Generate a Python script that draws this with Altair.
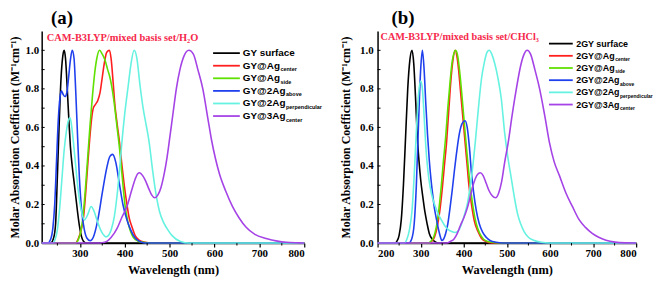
import altair as alt
import pandas as pd

SERIF = "Liberation Serif"
SANS = "Liberation Sans"

# ---------------- categories / labels ----------------
A_MAIN = ["GY surface", "GY@Ag", "GY@Ag", "GY@2Ag", "GY@2Ag", "GY@3Ag"]
B_MAIN = ["2GY surface", "2GY@Ag", "2GY@Ag", "2GY@2Ag", "2GY@2Ag", "2GY@3Ag"]
SUBS = ["", "center", "side", "above", "perpendicular", "center"]
COLORS = ["#000000", "#ff1f1f", "#5ee000", "#2040ee", "#66f2e0", "#a543e6"]
A_METHOD = ["CAM-B3LYP/mixed basis set/H\u2082O"]
B_METHOD = ["CAM-B3LYP/mixed basis set/CHCl\u2083"]
A_X_LABELS = [300, 400, 500, 600, 700, 800]
B_X_LABELS = [200, 300, 400, 500, 600, 700, 800]
X_MINOR = [250, 350, 450, 550, 650, 750]
Y_LABELS = [0.0, 0.2, 0.4, 0.6, 0.8, 1.0]
Y_MINOR = [0.1, 0.2, 0.3, 0.4, 0.5, 0.6, 0.7, 0.8, 0.9, 1.0]

# ---------------- panel (a) : H2O ----------------
a_surface_wl = [215, 235, 242, 246, 250, 254, 258, 262, 265, 268, 272, 276, 279, 283, 287, 291, 295, 299, 303, 308, 315, 800]
a_surface_v = [0, 0, 0.03, 0.1, 0.35, 0.62, 0.85, 0.97, 1.0, 0.96, 0.8, 0.62, 0.5, 0.4, 0.32, 0.24, 0.16, 0.09, 0.04, 0.01, 0, 0]

a_center_wl = [215, 290, 296, 302, 308, 313, 318, 322, 326, 330, 335, 340, 345, 350, 355, 360, 366, 370, 374, 378, 383, 388, 394, 399, 405, 410, 416, 423, 432, 445, 460, 800]
a_center_v = [0, 0, 0.02, 0.06, 0.13, 0.26, 0.42, 0.54, 0.64, 0.7, 0.72, 0.74, 0.78, 0.86, 0.94, 0.99, 1.0, 0.95, 0.84, 0.72, 0.62, 0.53, 0.4, 0.3, 0.2, 0.13, 0.085, 0.04, 0.015, 0.004, 0, 0]

a_side_wl = [215, 290, 297, 303, 308, 313, 318, 323, 328, 333, 338, 344, 350, 356, 362, 368, 372, 378, 383, 388, 393, 397, 401, 407, 413, 419, 430, 450, 470, 800]
a_side_v = [0, 0, 0.02, 0.07, 0.16, 0.3, 0.46, 0.62, 0.76, 0.88, 0.96, 1.0, 0.98, 0.95, 0.9, 0.85, 0.8, 0.7, 0.6, 0.5, 0.38, 0.28, 0.19, 0.11, 0.06, 0.03, 0.01, 0.002, 0, 0]

a_above_wl = [215, 228, 235, 240, 244, 248, 252, 256, 259, 263, 267, 271, 275, 279, 283, 287, 291, 295, 299, 304, 310, 316, 323, 330, 340, 350, 360, 367, 373, 380, 388, 396, 405, 413, 422, 432, 445, 800]
a_above_v = [0, 0, 0.02, 0.08, 0.2, 0.42, 0.64, 0.76, 0.79, 0.77, 0.76, 0.78, 0.86, 0.95, 1.0, 0.96, 0.78, 0.55, 0.34, 0.17, 0.07, 0.025, 0.012, 0.03, 0.12, 0.26, 0.39, 0.45, 0.46, 0.42, 0.31, 0.2, 0.12, 0.07, 0.03, 0.01, 0, 0]

a_perp_wl = [215, 240, 245, 250, 255, 260, 265, 270, 275, 278, 281, 285, 290, 295, 300, 305, 310, 318, 325, 331, 338, 346, 352, 358, 364, 370, 377, 384, 390, 394, 400, 408, 414, 421, 427, 434, 441, 448, 454, 462, 470, 478, 486, 493, 505, 523, 545, 800]
a_perp_v = [0, 0, 0.02, 0.07, 0.18, 0.33, 0.48, 0.58, 0.64, 0.65, 0.62, 0.54, 0.42, 0.3, 0.21, 0.15, 0.12, 0.15, 0.19, 0.17, 0.12, 0.07, 0.045, 0.032, 0.04, 0.07, 0.14, 0.27, 0.42, 0.53, 0.67, 0.82, 0.93, 1.0, 0.96, 0.82, 0.7, 0.61, 0.53, 0.38, 0.25, 0.16, 0.11, 0.08, 0.04, 0.01, 0, 0]

a_3ag_wl = [215, 345, 355, 361, 370, 383, 393, 405, 415, 423, 429, 433, 440, 447, 454, 460, 467, 474, 481, 488, 494, 500, 508, 515, 523, 532, 543, 553, 563, 574, 585, 593, 602, 611, 625, 640, 655, 670, 690, 715, 740, 760, 790, 800]
a_3ag_v = [0, 0, 0.004, 0.01, 0.03, 0.076, 0.13, 0.19, 0.27, 0.33, 0.36, 0.365, 0.35, 0.32, 0.28, 0.25, 0.235, 0.25, 0.29, 0.36, 0.44, 0.54, 0.68, 0.8, 0.9, 0.97, 1.0, 0.98, 0.9, 0.8, 0.65, 0.54, 0.44, 0.36, 0.27, 0.19, 0.13, 0.083, 0.045, 0.024, 0.01, 0.004, 0.001, 0]

# ---------------- panel (b) : CHCl3 ----------------
b_surface_wl = [200, 240, 245, 250, 255, 260, 265, 270, 275, 280, 284, 288, 292, 296, 300, 305, 310, 315, 320, 327, 335, 345, 800]
b_surface_v = [0, 0, 0.01, 0.04, 0.12, 0.3, 0.55, 0.8, 0.95, 1.0, 0.93, 0.76, 0.56, 0.43, 0.33, 0.24, 0.16, 0.1, 0.05, 0.02, 0.005, 0, 0]

b_center_wl = [200, 320, 326, 332, 338, 344, 350, 355, 360, 365, 370, 375, 380, 384, 388, 392, 396, 400, 404, 408, 412, 418, 425, 433, 441, 450, 465, 800]
b_center_v = [0, 0, 0.01, 0.03, 0.08, 0.16, 0.28, 0.4, 0.52, 0.68, 0.84, 0.95, 1.0, 0.97, 0.9, 0.8, 0.7, 0.6, 0.5, 0.4, 0.3, 0.2, 0.11, 0.06, 0.025, 0.01, 0, 0]

b_side_wl = [200, 318, 324, 330, 336, 342, 348, 353, 358, 363, 368, 373, 378, 381, 386, 391, 396, 401, 406, 411, 416, 422, 429, 437, 446, 458, 475, 500, 800]
b_side_v = [0, 0, 0.01, 0.03, 0.08, 0.17, 0.3, 0.43, 0.55, 0.7, 0.83, 0.94, 0.99, 1.0, 0.97, 0.88, 0.76, 0.63, 0.5, 0.38, 0.28, 0.18, 0.1, 0.05, 0.02, 0.007, 0.002, 0, 0]

b_above_wl = [200, 272, 279, 285, 290, 295, 300, 304, 308, 312, 316, 320, 324, 328, 332, 337, 342, 346, 349, 353, 358, 363, 368, 373, 378, 384, 390, 396, 403, 408, 413, 418, 423, 429, 436, 444, 452, 462, 475, 490, 800]
b_above_v = [0, 0, 0.02, 0.1, 0.3, 0.62, 0.9, 1.0, 0.9, 0.72, 0.56, 0.43, 0.33, 0.25, 0.18, 0.12, 0.065, 0.03, 0.013, 0.02, 0.05, 0.1, 0.18, 0.27, 0.37, 0.48, 0.57, 0.62, 0.635, 0.6, 0.5, 0.36, 0.26, 0.17, 0.1, 0.055, 0.03, 0.012, 0.004, 0, 0]

b_perp_wl = [200, 262, 268, 274, 280, 285, 290, 295, 300, 304, 308, 312, 317, 322, 328, 334, 340, 348, 356, 364, 372, 380, 388, 395, 402, 408, 414, 420, 427, 434, 441, 448, 454, 459, 465, 472, 479, 487, 495, 502, 510, 518, 525, 532, 540, 550, 562, 580, 600, 800]
b_perp_v = [0, 0, 0.02, 0.07, 0.17, 0.35, 0.58, 0.77, 0.84, 0.8, 0.66, 0.5, 0.37, 0.29, 0.23, 0.19, 0.155, 0.12, 0.09, 0.07, 0.06, 0.055, 0.065, 0.1, 0.15, 0.2, 0.28, 0.38, 0.53, 0.7, 0.85, 0.94, 0.99, 1.0, 0.98, 0.93, 0.86, 0.75, 0.57, 0.45, 0.34, 0.23, 0.15, 0.1, 0.06, 0.03, 0.015, 0.004, 0, 0]

b_3ag_wl = [200, 360, 370, 377, 385, 392, 400, 408, 415, 423, 430, 438, 445, 452, 459, 466, 474, 481, 488, 495, 503, 512, 522, 532, 540, 547, 555, 565, 576, 588, 599, 610, 622, 637, 652, 668, 683, 698, 713, 730, 751, 775, 800]
b_3ag_v = [0, 0, 0.01, 0.02, 0.05, 0.09, 0.13, 0.18, 0.24, 0.31, 0.35, 0.365, 0.35, 0.31, 0.27, 0.245, 0.235, 0.26, 0.32, 0.42, 0.52, 0.66, 0.8, 0.92, 0.98, 1.0, 0.98, 0.9, 0.8, 0.66, 0.52, 0.42, 0.35, 0.26, 0.19, 0.12, 0.08, 0.05, 0.03, 0.015, 0.005, 0.001, 0]

A_WL = [a_surface_wl, a_center_wl, a_side_wl, a_above_wl, a_perp_wl, a_3ag_wl]
A_V = [a_surface_v, a_center_v, a_side_v, a_above_v, a_perp_v, a_3ag_v]
B_WL = [b_surface_wl, b_center_wl, b_side_wl, b_above_wl, b_perp_wl, b_3ag_wl]
B_V = [b_surface_v, b_center_v, b_side_v, b_above_v, b_perp_v, b_3ag_v]

# Arial-bold advance widths (per 1000 em) to place legend subscripts
ARIAL_BOLD = {"2": 556, "3": 556, "G": 778, "Y": 667, "@": 975, "A": 722, "g": 611,
              " ": 278, "s": 556, "u": 611, "r": 389, "f": 333, "a": 556, "c": 556, "e": 556}


def text_width(s, size):
    return sum(ARIAL_BOLD.get(ch, 600) for ch in s) * size / 1000.0


def panel(title, title_dx, method, method_xy, method_size, mains, wls, vals, xdom,
          xlabels, width, height, leg, ytitle_pad, ylabel_pad):
    names = [m + ("_" + s if s else "") for m, s in zip(mains, SUBS)]
    rows = []
    for k, (name, ws, vs) in enumerate(zip(names, wls, vals)):
        for w, v in zip(ws, vs):
            rows.append({"series": name, "k": k, "wl": w, "v": v})
    df = pd.DataFrame(rows)
    xscale = alt.Scale(domain=xdom, nice=False, zero=False)
    yscale = alt.Scale(domain=[0, 1.1], nice=False, zero=False)

    xaxis = alt.Axis(values=xlabels, format="d", title="Wavelength (nm)", grid=False,
                     tickSize=4, tickWidth=1.2, tickColor="black",
                     domainColor="black", domainWidth=1.5,
                     labelFont=SERIF, labelFontSize=11, labelFontWeight="bold",
                     labelColor="black", labelPadding=1,
                     titleFont=SERIF, titleFontSize=12.5, titleFontWeight="bold",
                     titleColor="black", titlePadding=5)
    yaxis = alt.Axis(values=Y_LABELS, format=".1f",
                     title="Molar Absorption Coefficient (M\u207b\u00b9cm\u207b\u00b9)",
                     grid=False, ticks=False, domainColor="black", domainWidth=1.5,
                     labelFont=SERIF, labelFontSize=11, labelFontWeight="bold",
                     labelColor="black", labelPadding=ylabel_pad,
                     titleFont=SERIF, titleFontSize=12, titleFontWeight="bold",
                     titleColor="black", titlePadding=ytitle_pad)

    lines = alt.Chart(df).mark_line(strokeWidth=1.6, interpolate="monotone").encode(
        x=alt.X("wl:Q", scale=xscale, axis=xaxis),
        y=alt.Y("v:Q", scale=yscale, axis=yaxis),
        color=alt.Color("series:N", scale=alt.Scale(domain=names, range=COLORS), legend=None),
        order=alt.Order("k:Q"),
    )
    ytick = alt.Chart(pd.DataFrame({"v": Y_MINOR})).mark_rule(color="black", strokeWidth=1).encode(
        y=alt.Y("v:Q", scale=yscale), x=alt.value(0), x2=alt.value(3))
    xtick = alt.Chart(pd.DataFrame({"wl": X_MINOR})).mark_rule(color="black", strokeWidth=1).encode(
        x=alt.X("wl:Q", scale=xscale), y=alt.value(height), y2=alt.value(height + 2.5))

    layers = [lines, ytick, xtick]

    meth = alt.Chart(pd.DataFrame({"t": method})).mark_text(
        align="left", baseline="middle", font=SERIF, fontWeight="bold",
        fontSize=method_size, color="#f5284b").encode(
        text="t:N", x=alt.value(method_xy[0]), y=alt.value(method_xy[1]))
    layers.append(meth)

    for i, (m, s) in enumerate(zip(mains, SUBS)):
        yy = leg["y0"] + i * leg["dy"]
        layers.append(alt.Chart(pd.DataFrame({"t": [m]})).mark_rule(
            color=COLORS[i], strokeWidth=1.8).encode(
            x=alt.value(leg["x0"]), x2=alt.value(leg["x1"]), y=alt.value(yy)))
        layers.append(alt.Chart(pd.DataFrame({"t": [m]})).mark_text(
            align="left", baseline="middle", font=SANS, fontWeight="bold",
            fontSize=leg["fs"], color="black").encode(
            text="t:N", x=alt.value(leg["tx"]), y=alt.value(yy)))
        if s:
            sx = leg["tx"] + text_width(m, leg["fs"]) * leg["wscale"] + 0.5
            layers.append(alt.Chart(pd.DataFrame({"t": [s]})).mark_text(
                align="left", baseline="middle", font=SANS, fontWeight="bold",
                fontSize=leg["sfs"], color="black").encode(
                text="t:N", x=alt.value(sx), y=alt.value(yy + 3.5)))

    return alt.layer(*layers).properties(
        width=width, height=height,
        title=alt.TitleParams(title, anchor="start", frame="group", dx=title_dx,
                              font=SERIF, fontSize=19, fontWeight="bold",
                              color="black", offset=3),
    )


pa = panel("(a)", 9.5, A_METHOD, (5, 7), 10.5, A_MAIN, A_WL, A_V, [215, 800],
           A_X_LABELS, 265, 214,
           dict(x0=173, x1=200, tx=203, y0=22.3, dy=12.7, fs=10, sfs=5.5, wscale=1.0),
           4, 3)
pb = panel("(b)", 14, B_METHOD, (3, 6), 10.3, B_MAIN, B_WL, B_V, [200, 800],
           B_X_LABELS, 261, 214,
           dict(x0=173, x1=197, tx=200.5, y0=12.7, dy=12.3, fs=9, sfs=5, wscale=1.0),
           7, 4.5)

chart = alt.hconcat(pa, pb, spacing=74, bounds="flush").properties(
    padding={"left": 0, "top": 0, "right": 0, "bottom": 0}
).configure_view(stroke=None)

chart.save("out.html", embed_options={"renderer": "svg", "actions": False})
